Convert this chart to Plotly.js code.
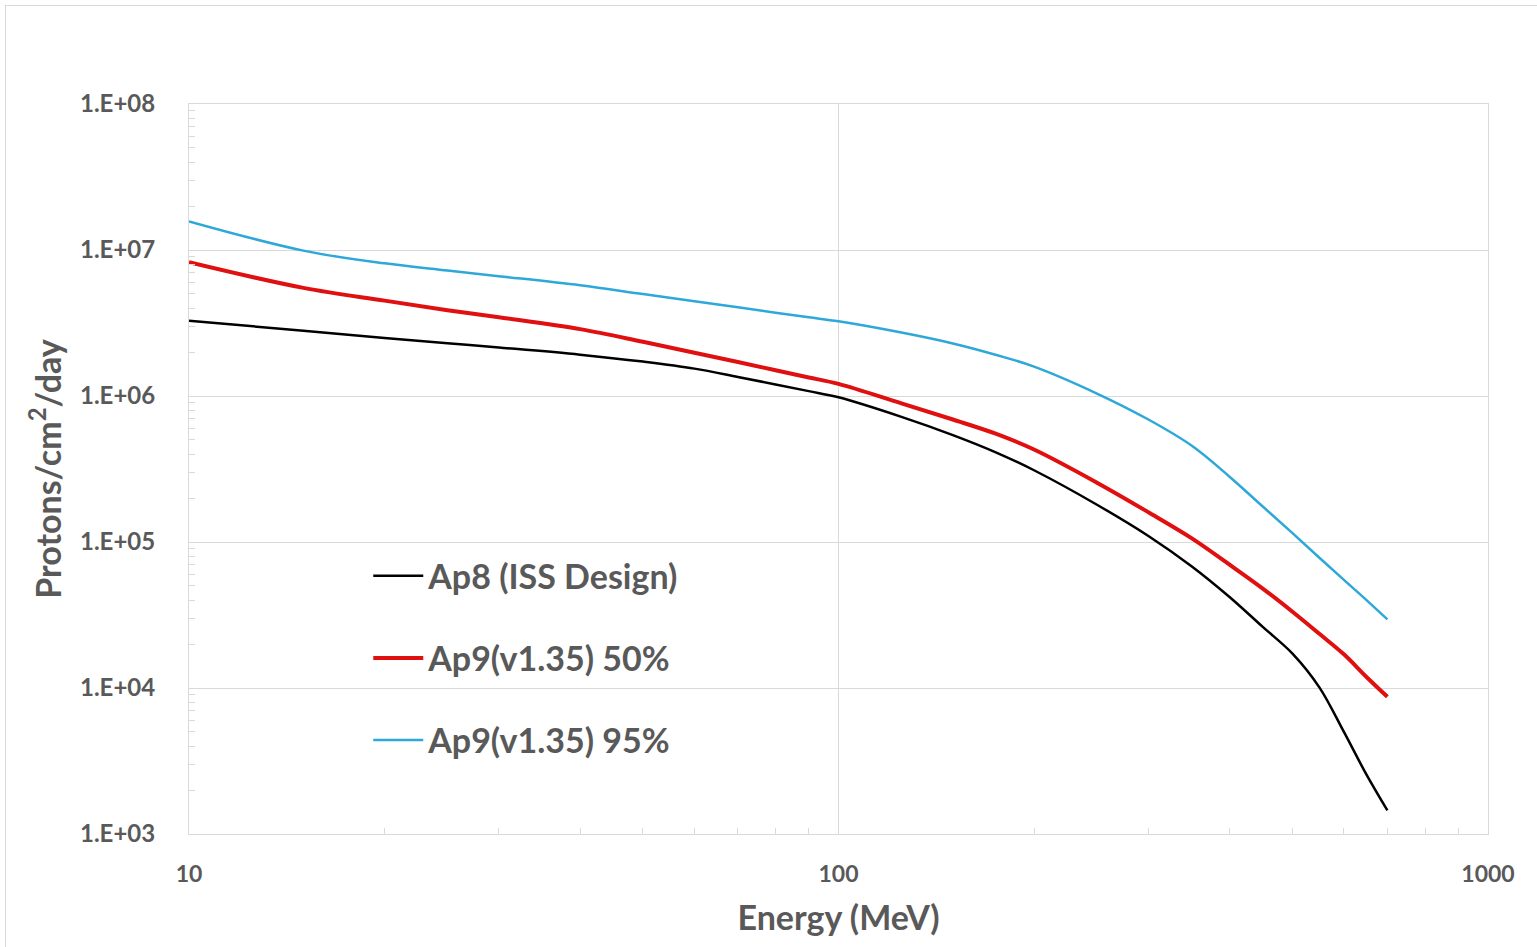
<!DOCTYPE html>
<html>
<head>
<meta charset="utf-8">
<script src="https://cdn.plot.ly/plotly-3.0.1.min.js"></script>
<style>
  html, body { margin: 0; padding: 0; background: #ffffff; }
  #chart { position: absolute; left: 0; top: 0; width: 1537px; height: 947px; }
  #frame { position: absolute; left: 5px; top: 5px; width: 1600px; height: 1000px;
           border-left: 1px solid #d9d9d9; border-top: 1px solid #d9d9d9; pointer-events: none; }
</style>
</head>
<body>
<div id="chart"></div>
<div id="frame"></div>
<script>
// Energy grid (MeV)
const energy = [10, 15, 20, 25, 30, 40, 50, 60, 70, 80, 90, 100, 125, 150, 175, 200, 250, 300, 350, 400, 450, 500, 550, 600, 650, 700];

// Protons/cm2/day
const ap8 = [3.28e6, 2.80e6, 2.50e6, 2.30e6, 2.15e6, 1.92e6, 1.72e6, 1.54e6, 1.35e6, 1.20e6, 1.08e6, 9.8e5,
             7.2e5, 5.4e5, 4.1e5, 3.1e5, 1.8e5, 1.1e5, 6.8e4, 4.2e4, 2.62e4, 1.72e4, 1.01e4, 5.0e3, 2.55e3, 1.45e3];
const ap9_50 = [8.25e6, 5.5e6, 4.5e6, 3.87e6, 3.46e6, 2.87e6, 2.35e6, 1.98e6, 1.71e6, 1.50e6, 1.34e6, 1.21e6,
                8.9e5, 6.9e5, 5.5e5, 4.3e5, 2.55e5, 1.6e5, 1.06e5, 7.0e4, 4.8e4, 3.33e4, 2.35e4, 1.7e4, 1.19e4, 8.7e3];
const ap9_95 = [1.57e7, 9.9e6, 8.1e6, 7.24e6, 6.62e6, 5.73e6, 4.99e6, 4.46e6, 4.05e6, 3.72e6, 3.46e6, 3.25e6,
                2.72e6, 2.29e6, 1.91e6, 1.59e6, 1.04e6, 6.9e5, 4.56e5, 2.8e5, 1.75e5, 1.15e5, 7.8e4, 5.5e4, 4.0e4, 2.95e4];

const seriesNames = ["Ap8 (ISS Design)", "Ap9(v1.35) 50%", "Ap9(v1.35) 95%"];

// Axis ticks
const xTickVals = [10, 100, 1000];
const xTickText = ["10", "100", "1000"];
const xMinorVals = [20, 30, 40, 50, 60, 70, 80, 90, 200, 300, 400, 500, 600, 700, 800, 900];
const yTickVals = [1e3, 1e4, 1e5, 1e6, 1e7, 1e8];
const yTickText = ["1.E+03", "1.E+04", "1.E+05", "1.E+06", "1.E+07", "1.E+08"];
const yMinorVals = [];
for (let e = 3; e < 8; e++) { for (let m = 2; m <= 9; m++) yMinorVals.push(m * Math.pow(10, e)); }

const font = "Lato, 'Open Sans', sans-serif";
const grey = "#595959";
const gridc = "#d9d9d9";

const traces = [
  { x: energy, y: ap8, name: seriesNames[0], legendgroup: "a", type: "scatter", mode: "lines",
    line: { color: "#000000", width: 2.5, shape: "spline", smoothing: 1 } },
  { x: energy, y: ap9_50, name: seriesNames[1], legendgroup: "b", type: "scatter", mode: "lines",
    line: { color: "#e01010", width: 4, shape: "spline", smoothing: 1 } },
  { x: energy, y: ap9_95, name: seriesNames[2], legendgroup: "c", type: "scatter", mode: "lines",
    line: { color: "#2ea8d8", width: 2.5, shape: "spline", smoothing: 1 } }
];

const layout = {
  width: 1537, height: 947,
  margin: { l: 189, r: 49, t: 104, b: 113 },
  paper_bgcolor: "#ffffff", plot_bgcolor: "#ffffff",
  font: { family: font, color: grey },
  showlegend: true,
  legend: {
    x: 0.138, y: 0.393, xanchor: "left", yanchor: "top",
    bgcolor: "rgba(0,0,0,0)",
    font: { family: font, size: 34, color: grey, weight: "bold" },
    tracegroupgap: 35, traceorder: "grouped", itemwidth: 50
  },
  xaxis: {
    type: "log", range: [1, 3],
    tickmode: "array", tickvals: xTickVals, ticktext: xTickText,
    ticks: "", showgrid: true, gridcolor: gridc, gridwidth: 1,
    showline: true, linecolor: gridc, linewidth: 1, mirror: true,
    zeroline: false,
    tickfont: { family: font, size: 23, color: grey, weight: "bold" },
    ticklabelstandoff: 19,
    minor: { tickmode: "array", tickvals: xMinorVals, ticks: "inside", ticklen: 6, tickcolor: gridc, showgrid: false },
    title: { text: "Energy (MeV)", standoff: 20, font: { family: font, size: 34, color: grey, weight: "bold" } }
  },
  yaxis: {
    type: "log", range: [3, 8],
    tickmode: "array", tickvals: yTickVals, ticktext: yTickText,
    ticks: "", showgrid: true, gridcolor: gridc, gridwidth: 1,
    showline: true, linecolor: gridc, linewidth: 1, mirror: true,
    zeroline: false,
    tickfont: { family: font, size: 24, color: grey, weight: "bold" },
    ticklabelstandoff: 28,
    minor: { tickmode: "array", tickvals: yMinorVals, ticks: "inside", ticklen: 6, tickcolor: gridc, showgrid: false },
    title: { text: "Protons/cm<sup>2</sup>/day", standoff: 8, font: { family: font, size: 34, color: grey, weight: "bold" } }
  }
};

Plotly.newPlot("chart", traces, layout, { displayModeBar: false, staticPlot: true });
</script>
</body>
</html>
